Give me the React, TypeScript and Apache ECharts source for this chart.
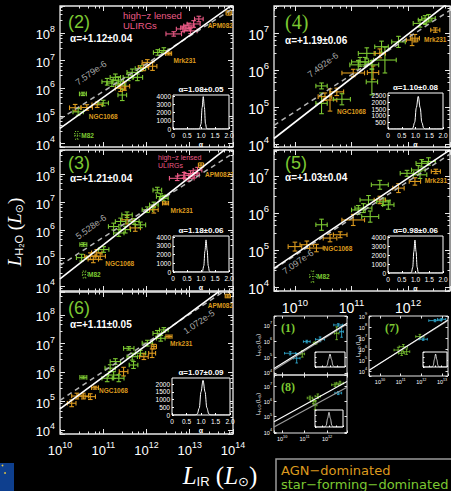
import React, { useEffect, useRef } from 'react';
import * as echarts from 'echarts';

// Point tuples: [log L_IR, log L_H2O, err log L_IR (dex), err log L_H2O (dex), class, name?]
// class: a = AGN-dominated, s = star-forming-dominated, m = M82 (upper/dotted), h = high-z lensed ULIRGs, c = local AGN (cyan)
type Pt = [number, number, number, number, string, string?];

const P2_POINTS: Pt[] = [
  [10.40, 4.29, 0.06, 0.14, 'm', 'M82'],
  [10.35, 5.29, 0.13, 0.12, 'a'],
  [10.62, 5.30, 0.13, 0.10, 'a', 'NGC1068'],
  [10.86, 5.40, 0.12, 0.10, 'a'],
  [11.00, 5.46, 0.12, 0.10, 's'],
  [10.42, 5.14, 0.12, 0.12, 's'],
  [10.53, 5.79, 0.08, 0.06, 's'],
  [11.44, 5.75, 0.10, 0.20, 's'],
  [11.20, 6.18, 0.12, 0.12, 's'],
  [11.35, 6.29, 0.12, 0.12, 's'],
  [11.49, 6.07, 0.12, 0.15, 'a'],
  [11.67, 6.57, 0.12, 0.12, 's'],
  [11.86, 6.71, 0.12, 0.10, 's'],
  [11.79, 6.39, 0.12, 0.12, 's'],
  [11.93, 6.75, 0.12, 0.12, 'a'],
  [12.14, 6.79, 0.10, 0.15, 'a'],
  [12.02, 6.93, 0.12, 0.10, 'a'],
  [12.26, 7.29, 0.10, 0.10, 's'],
  [12.40, 7.36, 0.10, 0.10, 's'],
  [12.51, 7.25, 0.07, 0.05, 'a', 'Mrk231'],
  [11.58, 6.39, 0.12, 0.12, 's'],
  [11.28, 6.39, 0.12, 0.12, 's'],
  [11.40, 6.11, 0.12, 0.12, 's'],
  [11.40, 6.00, 0.12, 0.12, 'a'],
  [11.09, 6.23, 0.12, 0.12, 's'],
  [12.63, 7.96, 0.18, 0.08, 'h'],
  [12.84, 8.14, 0.15, 0.10, 'h'],
  [12.98, 8.25, 0.12, 0.10, 'h'],
  [13.09, 8.32, 0.15, 0.12, 'h'],
  [13.21, 8.50, 0.10, 0.10, 'h'],
  [13.02, 8.07, 0.15, 0.10, 'h'],
  [12.91, 8.18, 0.12, 0.10, 'h'],
  [13.90, 8.72, 0.06, 0.08, 'a', 'APM08279'],
];

const P3_POINTS: Pt[] = [
  [10.58, 4.42, 0.06, 0.12, 'm', 'M82'],
  [10.54, 5.49, 0.08, 0.06, 's'],
  [10.50, 5.02, 0.12, 0.12, 's'],
  [10.70, 5.07, 0.13, 0.12, 'a'],
  [10.85, 5.19, 0.12, 0.12, 'a'],
  [10.93, 5.07, 0.12, 0.12, 'a', 'NGC1068'],
  [10.77, 4.96, 0.12, 0.12, 'a'],
  [11.01, 5.31, 0.12, 0.10, 's'],
  [11.24, 6.13, 0.12, 0.12, 's'],
  [11.36, 5.90, 0.12, 0.12, 's'],
  [11.55, 6.37, 0.12, 0.15, 'a'],
  [11.55, 6.55, 0.12, 0.10, 's'],
  [11.51, 6.02, 0.12, 0.12, 's'],
  [11.74, 6.08, 0.12, 0.12, 'a'],
  [11.86, 6.19, 0.12, 0.10, 's'],
  [11.71, 6.31, 0.12, 0.10, 's'],
  [11.40, 6.31, 0.12, 0.12, 's'],
  [12.02, 6.73, 0.12, 0.10, 's'],
  [12.17, 6.73, 0.10, 0.12, 'a'],
  [12.17, 6.90, 0.10, 0.10, 's'],
  [12.33, 7.20, 0.10, 0.10, 's'],
  [12.25, 7.43, 0.10, 0.10, 's'],
  [12.40, 7.14, 0.10, 0.10, 's'],
  [12.44, 6.96, 0.07, 0.05, 'a', 'Mrk231'],
  [12.71, 7.85, 0.18, 0.08, 'h'],
  [12.87, 7.96, 0.15, 0.10, 'h'],
  [12.98, 7.85, 0.12, 0.10, 'h'],
  [13.02, 8.02, 0.15, 0.10, 'h'],
  [13.18, 8.14, 0.10, 0.10, 'h'],
  [13.10, 7.96, 0.12, 0.10, 'h'],
  [13.26, 8.32, 0.06, 0.08, 'a', 'APM08279'],
];

const P6_POINTS: Pt[] = [
  [10.27, 4.93, 0.10, 0.12, 'a'],
  [10.39, 5.18, 0.12, 0.10, 'a'],
  [10.54, 5.18, 0.12, 0.10, 'a'],
  [10.70, 5.16, 0.12, 0.10, 'a'],
  [10.81, 5.47, 0.08, 0.05, 'a', 'NGC1068'],
  [10.54, 5.83, 0.08, 0.05, 's'],
  [11.09, 5.80, 0.12, 0.12, 's'],
  [11.24, 5.91, 0.12, 0.12, 's'],
  [11.16, 6.15, 0.12, 0.12, 's'],
  [11.47, 6.03, 0.10, 0.15, 'a'],
  [11.36, 5.80, 0.12, 0.12, 's'],
  [11.28, 6.38, 0.12, 0.10, 's'],
  [11.59, 6.84, 0.12, 0.06, 's'],
  [11.70, 6.26, 0.10, 0.12, 's'],
  [11.86, 6.67, 0.12, 0.10, 's'],
  [11.94, 6.55, 0.10, 0.10, 'a'],
  [12.02, 7.02, 0.12, 0.10, 's'],
  [12.13, 6.67, 0.08, 0.15, 'a'],
  [12.17, 6.90, 0.06, 0.08, 'a'],
  [12.25, 7.36, 0.10, 0.10, 's'],
  [12.33, 7.19, 0.10, 0.10, 's'],
  [12.40, 7.48, 0.10, 0.08, 's'],
  [12.52, 7.25, 0.07, 0.05, 'a', 'Mrk231'],
  [11.67, 6.55, 0.12, 0.12, 's'],
  [13.88, 8.66, 0.06, 0.06, 'a', 'APM08279'],
];

const P4_POINTS: Pt[] = [
  [10.47, 5.57, 0.10, 0.08, 's'],
  [10.62, 5.19, 0.12, 0.30, 'a', 'NGC1068'],
  [10.47, 5.10, 0.10, 0.28, 's'],
  [10.74, 5.41, 0.12, 0.10, 'a'],
  [10.83, 5.21, 0.15, 0.15, 's'],
  [10.53, 5.28, 0.12, 0.10, 'a'],
  [11.03, 5.92, 0.20, 0.10, 'a'],
  [11.38, 5.93, 0.10, 0.18, 'a'],
  [11.36, 5.68, 0.10, 0.35, 's'],
  [11.15, 6.22, 0.15, 0.12, 's'],
  [11.27, 6.45, 0.15, 0.15, 's'],
  [11.24, 6.22, 0.12, 0.12, 's'],
  [11.36, 6.14, 0.12, 0.12, 's'],
  [11.53, 6.63, 0.12, 0.15, 's'],
  [11.59, 6.27, 0.20, 0.35, 's'],
  [11.50, 6.45, 0.10, 0.12, 'a'],
  [11.83, 6.76, 0.12, 0.15, 's'],
  [12.07, 6.81, 0.10, 0.15, 'a'],
  [12.12, 6.86, 0.08, 0.10, 'a'],
  [12.21, 7.26, 0.12, 0.10, 's'],
  [12.36, 7.40, 0.12, 0.10, 's'],
  [12.30, 7.35, 0.12, 0.12, 's'],
  [12.48, 7.08, 0.08, 0.06, 'a', 'Mrk231'],
  [11.12, 6.14, 0.15, 0.12, 's'],
];

const P5_POINTS: Pt[] = [
  [10.32, 4.28, 0.06, 0.15, 'm', 'M82'],
  [10.00, 5.09, 0.12, 0.12, 'a'],
  [10.21, 5.14, 0.12, 0.10, 'a'],
  [10.38, 5.05, 0.12, 0.10, 'a', 'NGC1068'],
  [10.47, 5.68, 0.10, 0.15, 's'],
  [10.62, 5.32, 0.12, 0.10, 'a'],
  [10.80, 5.41, 0.12, 0.08, 'a'],
  [11.03, 5.81, 0.20, 0.15, 'a'],
  [11.12, 6.08, 0.12, 0.12, 's'],
  [11.30, 6.35, 0.15, 0.12, 's'],
  [11.33, 5.90, 0.15, 0.15, 's'],
  [11.21, 6.13, 0.15, 0.12, 's'],
  [11.50, 6.35, 0.10, 0.10, 'a'],
  [11.56, 6.30, 0.12, 0.10, 's'],
  [11.65, 6.22, 0.10, 0.12, 's'],
  [11.50, 6.76, 0.15, 0.12, 's'],
  [11.83, 6.67, 0.10, 0.12, 'a'],
  [11.98, 7.07, 0.12, 0.08, 's'],
  [12.12, 6.85, 0.10, 0.10, 'a'],
  [12.18, 7.16, 0.12, 0.12, 's'],
  [12.24, 7.34, 0.10, 0.10, 's'],
  [12.36, 7.39, 0.12, 0.10, 's'],
  [12.21, 7.03, 0.12, 0.10, 's'],
  [12.49, 7.12, 0.08, 0.06, 'a', 'Mrk231'],
];

const P1_POINTS: Pt[] = [
  [10.36, 5.23, 0.25, 0.10, 'c'],
  [10.65, 4.92, 0.15, 0.30, 'c'],
  [10.90, 5.19, 0.10, 0.20, 's'],
  [11.10, 5.96, 0.15, 0.08, 'c'],
  [11.69, 6.10, 0.20, 0.15, 'c'],
  [11.47, 5.86, 0.08, 0.08, 's'],
  [12.50, 7.00, 0.20, 0.08, 'c'],
  [12.43, 6.48, 0.10, 0.40, 's'],
  [12.65, 6.58, 0.08, 0.35, 'c'],
];

const P8_POINTS: Pt[] = [
  [11.39, 6.00, 0.12, 0.15, 's'],
  [11.24, 6.22, 0.12, 0.12, 's'],
  [11.59, 6.33, 0.12, 0.15, 's'],
  [11.47, 5.76, 0.08, 0.30, 's'],
  [12.36, 7.08, 0.15, 0.12, 's'],
  [12.58, 7.19, 0.15, 0.12, 's'],
  [12.50, 6.54, 0.15, 0.10, 'c'],
];

const P7_POINTS: Pt[] = [
  [10.88, 5.91, 0.20, 0.25, 's'],
  [11.13, 6.21, 0.20, 0.20, 's'],
  [11.05, 5.61, 0.15, 0.20, 's'],
  [11.29, 5.76, 0.15, 0.25, 's'],
  [11.93, 7.13, 0.20, 0.20, 's'],
  [12.09, 6.89, 0.20, 0.10, 'c'],
  [12.66, 8.58, 0.30, 0.10, 'c'],
  [12.98, 8.70, 0.20, 0.08, 'c'],
];

// panel order: (2), (3), (6), (4), (5), (1), (8), (7)
const PANEL_LABELS = ['(2)', '(3)', '(6)', '(4)', '(5)', '(1)', '(8)', '(7)'];
const X_RANGE: [number, number][] = [
  [10, 14], [10, 14], [10, 14], [9.63, 12.74], [9.63, 12.74], [9.64, 12.89], [9.64, 12.89], [9.47, 13.29],
];
const Y_RANGE: [number, number][] = [
  [3.87, 8.97], [3.83, 8.86], [3.86, 8.8], [3.92, 7.73], [3.89, 7.70], [3.87, 7.56], [3.93, 7.72], [3.55, 9.0],
];
// best fit log L_H2O = slope * log L_IR + icpt
const FIT_SLOPE = [1.12, 1.21, 1.11, 1.19, 1.03, 0.873, 0.81, 1.2];
const FIT_ICPT = [-6.654, -7.837, -6.363, -7.31, -5.419, -4.143, -3.15, -7.3];
// linear (slope 1) normalisations for the big panels
const NORM_TEXT = ['7.579e-6', '5.528e-6', '1.072e-5', '7.492e-6', '7.097e-6'];
const NORM_VALUE = [7.579e-6, 5.528e-6, 1.072e-5, 7.492e-6, 7.097e-6];
// second (grey) fit for the small panels
const ALT_SLOPE = [0.885, 0.80, 1.18];
const ALT_ICPT = [-4.349, -3.39, -7.1];
const ALPHA_TEXT = ['α=+1.12±0.04', 'α=+1.21±0.04', 'α=+1.11±0.05', 'α=+1.19±0.06', 'α=+1.03±0.04'];
const BOOT_TEXT = ['α=1.08±0.05', 'α=1.18±0.06', 'α=1.07±0.09', 'α=1.10±0.08', 'α=0.98±0.06'];

// bootstrap histograms of alpha: [alpha, number]
const H2: [number, number][] = [[0, 0], [0.9, 0], [0.95, 40], [1.0, 600], [1.04, 2600], [1.08, 3950], [1.12, 2700], [1.16, 650], [1.2, 60], [1.25, 0], [2, 0]];
const H3: [number, number][] = [[0, 0], [1.0, 0], [1.05, 60], [1.1, 700], [1.14, 2400], [1.18, 3700], [1.22, 2500], [1.26, 700], [1.3, 80], [1.36, 0], [2, 0]];
const H6: [number, number][] = [[0, 0], [0.8, 0], [0.87, 60], [0.94, 450], [1.0, 1500], [1.07, 2250], [1.14, 1500], [1.2, 480], [1.27, 70], [1.34, 0], [2, 0]];
const H4: [number, number][] = [[0, 0], [0.85, 0], [0.9, 60], [0.97, 500], [1.03, 1600], [1.1, 2450], [1.17, 1600], [1.23, 500], [1.3, 60], [1.36, 0], [2, 0]];
const H5: [number, number][] = [[0, 0], [0.8, 0], [0.85, 60], [0.9, 650], [0.94, 2400], [0.98, 3700], [1.02, 2400], [1.06, 650], [1.1, 60], [1.15, 0], [2, 0]];
const H1: [number, number][] = [[0, 0], [0.7, 0], [0.8, 300], [0.9, 1500], [1.0, 2600], [1.1, 1500], [1.2, 300], [1.3, 0], [2, 0]];
const H8: [number, number][] = [[0, 0], [0.7, 0], [0.8, 300], [0.9, 1500], [1.0, 2600], [1.1, 1500], [1.2, 300], [1.3, 0], [2, 0]];
const H7: [number, number][] = [[0, 0], [0.75, 0], [0.85, 300], [0.95, 1500], [1.05, 2600], [1.15, 1500], [1.25, 300], [1.35, 0], [2, 0]];
const INSET_YMAX = [4150, 4150, 2400, 2700, 4150, 3000, 3000, 3000];
const INSET_YSTEP = [1000, 1000, 500, 500, 1000, 1000, 1000, 1000];

// ---------- layout / style ----------
const SANS = 'Liberation Sans, DejaVu Sans, sans-serif';
const SERIF = 'Liberation Serif, DejaVu Serif, serif';
const COL: Record<string, string> = { a: '#dc9a1e', s: '#7cc832', m: '#7cc832', h: '#ec5a86', c: '#35b8e0' };
const FRAME = '#e6e6e6';
const BOXES = [
  [60, 6, 173, 141], [60, 150, 173, 141], [60, 292, 173, 142],
  [274, 6, 176, 141], [274, 150, 176, 141],
  [274, 316, 73, 59], [274, 375, 73, 58], [369, 316, 79, 60],
];
const INSET_BOXES = [
  [173, 95, 56, 34], [173, 236, 56, 36], [172, 378, 58, 37],
  [388, 93, 55, 36], [388, 236, 55, 37],
  [315, 352, 30, 15], [315, 410, 28, 17], [423, 352, 24, 15],
];
const X_LABELS = [false, false, true, false, true, false, true, true];
const LABEL_OFF: Record<string, [number, number, string]> = {
  '0:NGC1068': [2, 9, 'left'], '0:Mrk231': [5, 7, 'left'], '0:M82': [4, 0, 'left'], '0:APM08279': [-21, 13, 'left'],
  '1:NGC1068': [5, 7, 'left'], '1:Mrk231': [5, 7, 'left'], '1:M82': [3, 0, 'left'], '1:APM08279': [4, 9, 'left'],
  '2:NGC1068': [4, 3, 'left'], '2:Mrk231': [1, 7, 'left'], '2:APM08279': [-20, 9, 'left'],
  '3:NGC1068': [7, 11, 'left'], '3:Mrk231': [0, 9, 'center'],
  '4:NGC1068': [7, 0, 'left'], '4:Mrk231': [0, 9, 'center'], '4:M82': [4, 0, 'left'],
};

const ALL_POINTS = [P2_POINTS, P3_POINTS, P6_POINTS, P4_POINTS, P5_POINTS, P1_POINTS, P8_POINTS, P7_POINTS];
const HISTS = [H2, H3, H6, H4, H5, H1, H8, H7];

function pow10Label(v: number) {
  const e = Math.log10(v);
  const r = Math.round(e);
  return Math.abs(e - r) < 1e-6 ? `{b|10}{s|${r}}` : '';
}

function makeRender(pts: Pt[], panel: number, small: boolean) {
  return (params: any, api: any) => {
    const p = pts[params.dataIndex];
    const [lx, ly, ex, ey, cls, name] = p;
    const col = COL[cls];
    const c = api.coord([10 ** lx, 10 ** ly]);
    const l = api.coord([10 ** (lx - ex), 10 ** ly]);
    const r = api.coord([10 ** (lx + ex), 10 ** ly]);
    const b = api.coord([10 ** lx, 10 ** (ly - ey)]);
    const t = api.coord([10 ** lx, 10 ** (ly + ey)]);
    const cap = small ? 1.3 : 2.3;
    const seg = (x1: number, y1: number, x2: number, y2: number) => ({
      type: 'line',
      shape: { x1, y1, x2, y2 },
      style: { stroke: col, lineWidth: small ? 0.8 : 1.1, lineDash: cls === 'm' ? [1, 1.5] : null },
    });
    const children: any[] = [
      seg(l[0], c[1], r[0], c[1]),
      seg(c[0], b[1], c[0], t[1]),
      seg(l[0], c[1] - cap, l[0], c[1] + cap),
      seg(r[0], c[1] - cap, r[0], c[1] + cap),
      seg(c[0] - cap, b[1], c[0] + cap, b[1]),
      seg(c[0] - cap, t[1], c[0] + cap, t[1]),
    ];
    if (name) {
      const off = LABEL_OFF[panel + ':' + name] || [4, 7, 'left'];
      children.push({
        type: 'text',
        x: c[0] + off[0],
        y: c[1] + off[1],
        style: { text: name, fill: col, fontSize: 6.5, fontFamily: SANS, fontWeight: 'bold', align: off[2], verticalAlign: 'middle' },
      });
    }
    return { type: 'group', children };
  };
}

function buildOption() {
  const grid: any[] = [];
  const xAxis: any[] = [];
  const yAxis: any[] = [];
  const series: any[] = [];
  const graphic: any[] = [];

  BOXES.forEach((box, i) => {
    const [l, t, w, h] = box;
    const small = i >= 5;
    grid.push({ left: l, top: t, width: w, height: h, show: true, borderColor: FRAME, borderWidth: small ? 1 : 1.3, containLabel: false, outerBoundsMode: 'none' });
    const tickLen = small ? 2.5 : 5;
    const fs = small ? 5.5 : (i >= 3 ? 14 : 13);
    const rich = {
      b: { fontSize: fs, color: '#fff', fontFamily: SANS, verticalAlign: 'bottom', lineHeight: fs * 1.3 },
      s: { fontSize: fs * 0.68, color: '#fff', fontFamily: SANS, verticalAlign: 'top', lineHeight: fs * 1.3 },
    };
    const common = (pos: string, range: [number, number], showLabel: boolean, isX: boolean) => ({
      type: 'log', logBase: 10, gridIndex: i, position: pos,
      min: 10 ** range[0], max: 10 ** range[1],
      axisLine: { show: false },
      axisTick: { show: true, inside: true, length: tickLen, lineStyle: { color: FRAME, width: 1 } },
      minorTick: { show: !small, length: tickLen * 0.5, splitNumber: 5, lineStyle: { color: FRAME, width: 1 } },
      splitLine: { show: false },
      minorSplitLine: { show: false },
      axisLabel: { show: showLabel, formatter: pow10Label, rich, margin: small ? 2 : (isX ? 6 : 5), color: '#fff' },
    });
    xAxis.push(common('bottom', X_RANGE[i], X_LABELS[i], true));
    xAxis.push(common('top', X_RANGE[i], false, true));
    yAxis.push(common('left', Y_RANGE[i], true, false));
    yAxis.push(common('right', Y_RANGE[i], false, false));

    const pts = ALL_POINTS[i];
    series.push({
      type: 'custom', coordinateSystem: 'cartesian2d', xAxisIndex: 2 * i, yAxisIndex: 2 * i,
      data: pts.map((p) => [10 ** p[0], 10 ** p[1]]),
      encode: { x: 0, y: 1 },
      renderItem: makeRender(pts, i, small),
      clip: true, silent: true, z: 3,
    });
    const [x0, x1] = X_RANGE[i];
    const lineData = (s: number, b: number) => [[10 ** x0, 10 ** (s * x0 + b)], [10 ** x1, 10 ** (s * x1 + b)]];
    if (!small) {
      const nb = Math.log10(NORM_VALUE[i]);
      series.push({
        type: 'line', xAxisIndex: 2 * i, yAxisIndex: 2 * i, data: lineData(1, nb), symbol: 'none', clip: true, silent: true, z: 4,
        lineStyle: { color: '#b4b4b4', width: 1.5, type: [5, 4] },
      });
    } else {
      const k = i - 5;
      series.push({
        type: 'line', xAxisIndex: 2 * i, yAxisIndex: 2 * i, data: lineData(ALT_SLOPE[k], ALT_ICPT[k]), symbol: 'none', clip: true, silent: true, z: 4,
        lineStyle: { color: '#9a9a9a', width: 1.2 },
      });
    }
    series.push({
      type: 'line', xAxisIndex: 2 * i, yAxisIndex: 2 * i, data: lineData(FIT_SLOPE[i], FIT_ICPT[i]), symbol: 'none', clip: true, silent: true, z: 5,
      lineStyle: { color: '#ffffff', width: small ? 1.1 : 1.6 },
    });
  });

  // insets
  INSET_BOXES.forEach((box, j) => {
    const [l, t, w, h] = box;
    const small = j >= 5;
    const gi = 8 + j;
    grid.push({ left: l, top: t, width: w, height: h, show: true, borderColor: '#fff', borderWidth: 1, backgroundColor: '#000', containLabel: false, outerBoundsMode: 'none', z: 6 });
    xAxis.push({
      type: 'value', gridIndex: gi, min: 0, max: 2, interval: 0.5,
      axisLine: { show: false }, splitLine: { show: false },
      axisTick: { show: true, inside: true, length: small ? 1.5 : 2, lineStyle: { color: '#fff' } },
      axisLabel: { show: !small, fontSize: 6.5, color: '#fff', fontFamily: SANS, margin: 3, formatter: (v: number) => (v === 0 ? '0' : v.toFixed(1)) },
      name: small ? '' : 'α', nameLocation: 'middle', nameGap: 12,
      nameTextStyle: { color: '#fff', fontSize: 7, fontWeight: 'bold', fontFamily: SANS },
      z: 7,
    });
    yAxis.push({
      type: 'value', gridIndex: gi, min: 0, max: INSET_YMAX[j], interval: INSET_YSTEP[j],
      axisLine: { show: false }, splitLine: { show: false },
      axisTick: { show: true, inside: true, length: small ? 1.5 : 2, lineStyle: { color: '#fff' } },
      axisLabel: { show: !small, fontSize: 6.5, color: '#fff', fontFamily: SANS, margin: 2, showMaxLabel: false, formatter: (v: number) => String(Math.round(v)) },
      z: 7,
    });
    series.push({
      type: 'line', xAxisIndex: 16 + j, yAxisIndex: 16 + j, data: HISTS[j], symbol: 'none', smooth: 0.35, smoothMonotone: 'x',
      lineStyle: { color: '#fff', width: small ? 0.8 : 1 }, silent: true, z: 8,
    });
    if (!small) {
      graphic.push({
        type: 'text', x: l + w / 2, y: t - 6, z: 20,
        style: { text: BOOT_TEXT[j], fill: '#fff', fontSize: 8, fontWeight: 'bold', fontFamily: SANS, align: 'center', verticalAlign: 'middle' },
      });
    }
  });

  // panel numbers
  const numPos = [[68, 22, 18, SANS, 'normal'], [68, 163, 18, SANS, 'normal'], [68, 308, 18, SANS, 'normal'], [285, 22, 20, SERIF, 'normal'], [285, 163, 18, SANS, 'normal'], [281, 328, 12, SERIF, 'bold'], [281, 387, 12, SERIF, 'bold'], [385, 328, 12, SERIF, 'bold']];
  numPos.forEach((p, i) => {
    graphic.push({ type: 'text', x: p[0], y: p[1], z: 20, style: { text: PANEL_LABELS[i], fill: '#7cc832', fontSize: p[2], fontFamily: p[3], fontWeight: p[4], align: 'left', verticalAlign: 'middle' } });
  });
  const alphaPos = [[70, 38], [70, 178], [70, 324], [285, 40], [285, 177]];
  alphaPos.forEach((p, i) => {
    graphic.push({ type: 'text', x: p[0], y: p[1], z: 20, style: { text: ALPHA_TEXT[i], fill: '#fff', fontSize: 10, fontWeight: 'bold', fontFamily: SANS, align: 'left', verticalAlign: 'middle' } });
  });
  const normPos = [[91, 73, 35], [91, 227, 36], [199, 322, 34], [323, 65, 37], [298, 262, 35]];
  normPos.forEach((p, i) => {
    graphic.push({ type: 'text', x: p[0], y: p[1], rotation: (p[2] * Math.PI) / 180, z: 20, style: { text: NORM_TEXT[i], fill: '#a8a8a8', fontSize: 9, fontFamily: SANS, align: 'center', verticalAlign: 'middle' } });
  });
  // high-z lensed ULIRGs
  graphic.push({ type: 'text', x: 123, y: 20, z: 20, style: { text: 'high−z lensed\nULIRGs', fill: '#ec5a86', fontSize: 9.5, lineHeight: 10, fontFamily: SANS, align: 'left', verticalAlign: 'middle' } });
  graphic.push({ type: 'text', x: 158, y: 161, z: 20, style: { text: 'high−z lensed\nULIRGs', fill: '#ec5a86', fontSize: 7, lineHeight: 8, fontFamily: SANS, align: 'left', verticalAlign: 'middle' } });

  // main axis titles
  graphic.push({
    type: 'text', x: 14, y: 232, rotation: Math.PI / 2, z: 20,
    style: {
      text: '{L|L}{sub|H₂O}{p| (}{L|L}{sub|⊙}{p|)}', align: 'center', verticalAlign: 'middle',
      rich: {
        L: { fontSize: 19, fontStyle: 'italic', fontFamily: SERIF, fill: '#fff', color: '#fff', verticalAlign: 'middle' },
        sub: { fontSize: 11, fontFamily: SANS, fill: '#fff', color: '#fff', verticalAlign: 'bottom', lineHeight: 20 },
        p: { fontSize: 19, fontFamily: SERIF, fill: '#fff', color: '#fff' },
      },
    },
  });
  graphic.push({
    type: 'text', x: 220, y: 475, z: 20,
    style: {
      text: '{L|L}{sub|IR}{p| (}{L|L}{sub|⊙}{p|)}', align: 'center', verticalAlign: 'middle',
      rich: {
        L: { fontSize: 25, fontStyle: 'italic', fontFamily: SERIF, fill: '#fff', color: '#fff' },
        sub: { fontSize: 13, fontFamily: SANS, fill: '#fff', color: '#fff', verticalAlign: 'bottom', lineHeight: 26 },
        p: { fontSize: 25, fontFamily: SERIF, fill: '#fff', color: '#fff' },
      },
    },
  });
  // small panel y titles
  [[258, 345], [258, 404], [358, 346]].forEach((p) => {
    graphic.push({
      type: 'text', x: p[0], y: p[1], rotation: Math.PI / 2, z: 20,
      style: {
        text: '{n|L}{s|H₂O}{n| (L}{s|⊙}{n|)}', align: 'center', verticalAlign: 'middle',
        rich: { n: { fontSize: 5.5, fill: '#fff', fontFamily: SANS }, s: { fontSize: 4, fill: '#fff', fontFamily: SANS, verticalAlign: 'bottom' } },
      },
    });
  });

  // legend box
  graphic.push({ type: 'rect', shape: { x: 276, y: 459, width: 178, height: 40 }, z: 20, style: { fill: 'none', stroke: '#9a9a9a', lineWidth: 1.5 } });
  graphic.push({ type: 'text', x: 281, y: 470, z: 20, style: { text: 'AGN−dominated', fill: '#dc9a1e', fontSize: 13, fontFamily: 'DejaVu Sans', align: 'left', verticalAlign: 'middle' } });
  graphic.push({ type: 'text', x: 281, y: 484, z: 20, style: { text: 'star−forming−dominated', fill: '#7cc832', fontSize: 13, fontFamily: 'DejaVu Sans', align: 'left', verticalAlign: 'middle' } });

  // stray image corner
  graphic.push({ type: 'rect', shape: { x: 0, y: 463, width: 14, height: 28 }, z: 20, style: { fill: '#0e3f8e' } });
  graphic.push({ type: 'circle', shape: { cx: 2.5, cy: 465.5, r: 0.9 }, z: 21, style: { fill: '#e8c840' } });
  graphic.push({ type: 'circle', shape: { cx: 5, cy: 473, r: 0.9 }, z: 21, style: { fill: '#e8c840' } });

  return {
    animation: false,
    backgroundColor: '#000',
    grid, xAxis, yAxis, series, graphic,
  };
}

export default function App() {
  const ref = useRef<HTMLDivElement>(null);
  useEffect(() => {
    const el = ref.current;
    if (!el) return;
    const chart = echarts.init(el, null, { renderer: 'svg' });
    chart.setOption(buildOption() as any);
    return () => chart.dispose();
  }, []);
  return <div ref={ref} style={{ position: 'fixed', left: 0, top: 0, width: 451, height: 491, background: '#000' }} />;
}
